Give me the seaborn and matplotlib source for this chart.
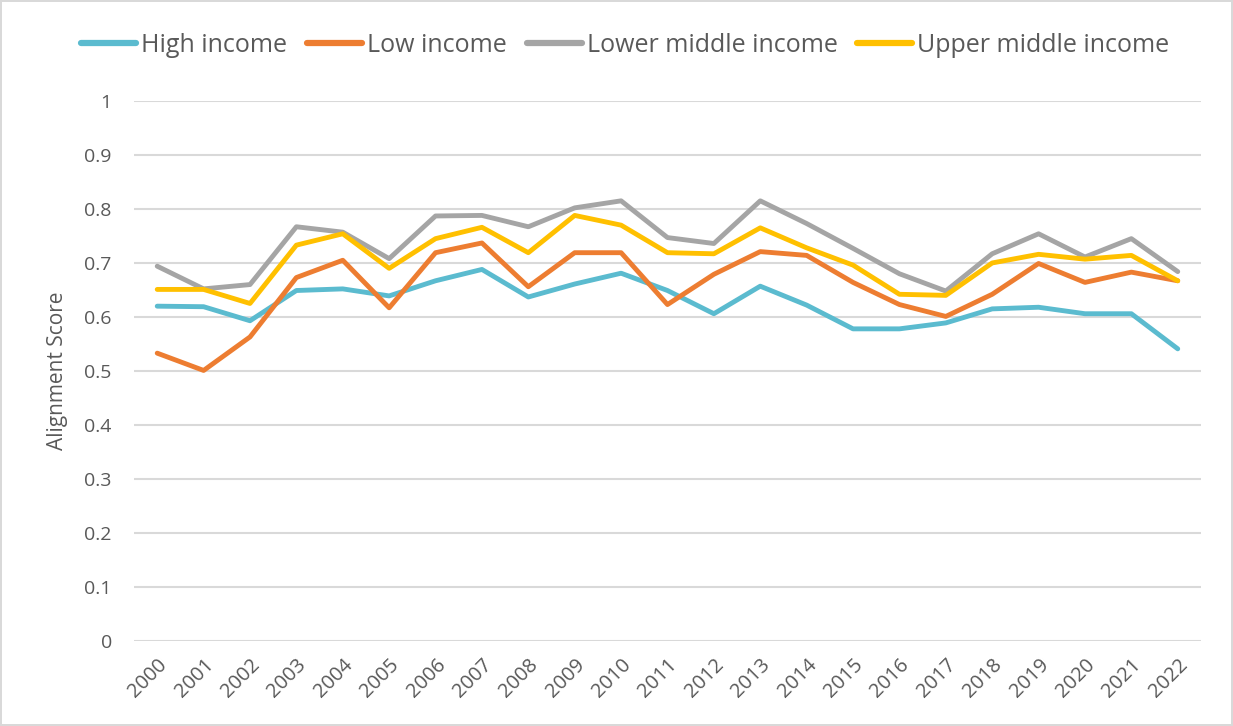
import numpy as np
import pandas as pd
import matplotlib
matplotlib.use("Agg")
import matplotlib.pyplot as plt
import seaborn as sns

# Data
years = list(range(2000, 2023))
high_income = [0.620, 0.619, 0.593, 0.649, 0.652, 0.639, 0.667, 0.688, 0.637, 0.661, 0.681,
               0.649, 0.606, 0.657, 0.622, 0.578, 0.578, 0.589, 0.615, 0.618, 0.606, 0.606, 0.541]
low_income = [0.533, 0.501, 0.563, 0.673, 0.705, 0.617, 0.719, 0.737, 0.656, 0.719, 0.719,
              0.623, 0.679, 0.721, 0.714, 0.664, 0.623, 0.601, 0.642, 0.699, 0.664, 0.683, 0.667]
lower_middle = [0.694, 0.652, 0.660, 0.767, 0.757, 0.708, 0.787, 0.788, 0.767, 0.802, 0.815,
                0.747, 0.736, 0.815, 0.773, 0.727, 0.680, 0.648, 0.717, 0.754, 0.711, 0.745, 0.684]
upper_middle = [0.651, 0.651, 0.625, 0.733, 0.754, 0.690, 0.745, 0.766, 0.719, 0.788, 0.770,
                0.719, 0.717, 0.765, 0.728, 0.696, 0.642, 0.640, 0.700, 0.716, 0.707, 0.714, 0.667]

series_names = ["High income", "Low income", "Lower middle income", "Upper middle income"]
colors = ["#5BBBCF", "#ED7D31", "#A5A5A5", "#FFC000"]
y_ticks = [0, 0.1, 0.2, 0.3, 0.4, 0.5, 0.6, 0.7, 0.8, 0.9, 1]

df = pd.DataFrame({"Year": years, "High income": high_income, "Low income": low_income,
                   "Lower middle income": lower_middle, "Upper middle income": upper_middle})
long_df = df.melt(id_vars="Year", var_name="Group", value_name="Score")

sns.set_style("white")
plt.rcParams["font.family"] = ["Open Sans", "DejaVu Sans"]
text_color = "#595959"

fig = plt.figure(figsize=(12.33, 7.26), dpi=100)
fig.patch.set_edgecolor("#D9D9D9")
fig.patch.set_linewidth(1.5)
ax = fig.add_axes([0.1087, 0.117, 0.8653, 0.744])

sns.lineplot(data=long_df, x="Year", y="Score", hue="Group", hue_order=series_names,
             palette=colors, linewidth=3.5, ax=ax, legend=False)

ax.set_xlim(years[0] - 0.5, years[-1] + 0.5)
ax.set_ylim(0, 1)
ax.set_yticks(y_ticks)
ax.set_yticklabels([f"{t:g}" for t in y_ticks], fontsize=14, color=text_color)
ax.set_xticks(years)
ax.set_xticklabels([str(y) for y in years], rotation=45, ha="right", rotation_mode="anchor",
                   fontsize=14.5, color=text_color)
ax.tick_params(axis="y", length=0, pad=16)
ax.tick_params(axis="x", length=0, pad=10)
ax.yaxis.grid(True, color="#D9D9D9", linewidth=1.5)
ax.set_axisbelow(True)
for s in ax.spines.values():
    s.set_visible(False)
ax.set_xlabel("")
ax.set_ylabel("Alignment Score", fontsize=15, color=text_color, labelpad=12)

handles = [plt.Line2D([0], [0], color=c, linewidth=4.5) for c in colors]
fig.legend(handles, series_names, loc="center", bbox_to_anchor=(0.507, 0.938), ncol=4,
           frameon=False, fontsize=18, labelcolor=text_color, handlelength=2.2,
           handletextpad=0.2, columnspacing=0.8)

fig.savefig("out.png", dpi=100)
